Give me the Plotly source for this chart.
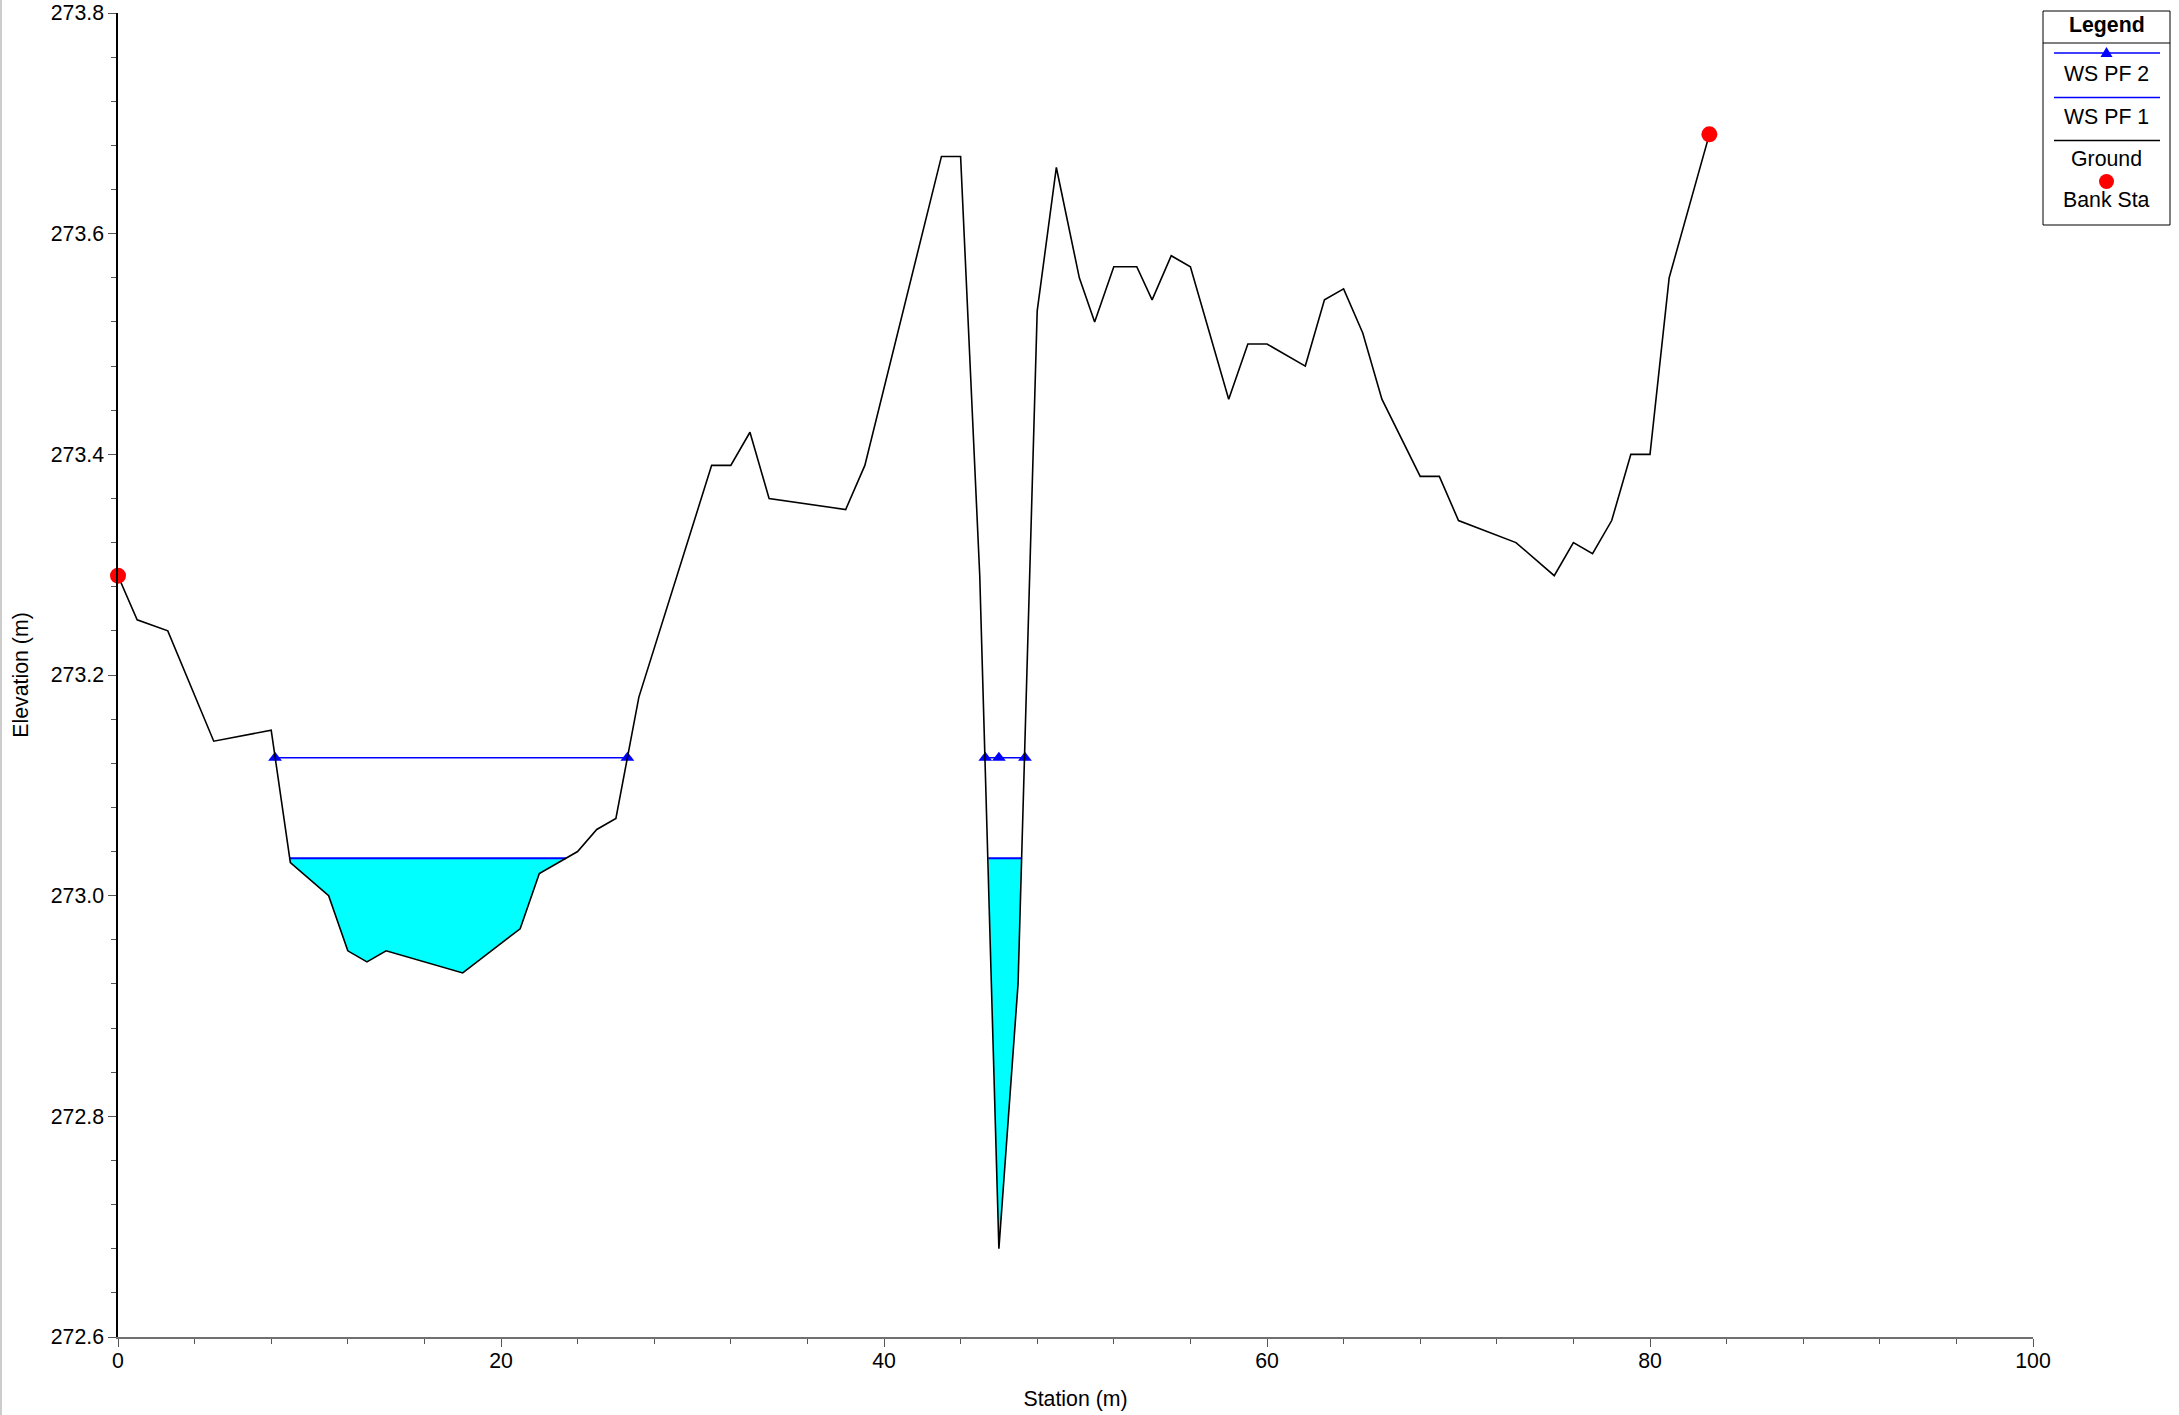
import plotly.graph_objects as go

# ---------------- data ----------------
ground_station = [0, 1, 2.6, 5, 8, 9, 11, 12, 13, 14, 18, 21, 22, 24, 25, 26, 27.2,
                  31, 32, 33, 34, 38, 39, 43, 44, 45, 46, 47, 48, 49, 50.2, 51, 52,
                  53.2, 54, 55, 56, 58, 59, 60, 62, 63, 64, 65, 66, 68, 69, 70, 73,
                  75, 76, 77, 78, 79, 80, 81, 83.1]
ground_elev = [273.29, 273.25, 273.24, 273.14, 273.15, 273.03, 273.00, 272.95, 272.94,
               272.95, 272.93, 272.97, 273.02, 273.04, 273.06, 273.07, 273.18,
               273.39, 273.39, 273.42, 273.36, 273.35, 273.39, 273.67, 273.67,
               273.29, 272.68, 272.92, 273.53, 273.66, 273.56, 273.52, 273.57,
               273.57, 273.54, 273.58, 273.57, 273.45, 273.50, 273.50, 273.48,
               273.54, 273.55, 273.51, 273.45, 273.38, 273.38, 273.34, 273.32,
               273.29, 273.32, 273.31, 273.34, 273.40, 273.40, 273.56, 273.69]

bank_station = [0, 83.1]
bank_elev = [273.29, 273.69]

ws_pf2_elev = 273.125
ws_pf2_segments = [[8.2, 26.6], [45.29, 46.0, 47.36]]

ws_pf1_elev = 273.034
ws_pf1_segments = [[8.97, 23.4], [45.45, 47.19]]

x_ticks = [0, 20, 40, 60, 80, 100]
y_ticks = [272.6, 272.8, 273.0, 273.2, 273.4, 273.6, 273.8]

legend_labels = ["WS PF 2", "WS PF 1", "Ground", "Bank Sta"]

# ---------------- layout helpers ----------------
W, H = 2179, 1415
FONT = "Arial, Liberation Sans, sans-serif"
FS = 21.3


def px(x):
    return x / W


def py(y):
    return 1 - y / H


fig = go.Figure()

# water fill for WS PF 1 (polygon: water surface over the ground)
for seg in ws_pf1_segments:
    lo, hi = seg[0], seg[-1]
    fx = [lo] + [s for s in ground_station if lo < s < hi] + [hi]
    fy = [ws_pf1_elev] + [e for s, e in zip(ground_station, ground_elev) if lo < s < hi] + [ws_pf1_elev]
    fig.add_trace(go.Scatter(x=fx, y=fy, fill="toself", fillcolor="#00FFFF",
                             mode="lines", line=dict(width=0, color="#00FFFF"),
                             hoverinfo="skip", showlegend=False))

# WS PF 1 line
x1, y1 = [], []
for seg in ws_pf1_segments:
    x1 += [seg[0], seg[-1], None]
    y1 += [ws_pf1_elev, ws_pf1_elev, None]
fig.add_trace(go.Scatter(x=x1, y=y1, mode="lines", name="WS PF 1",
                         line=dict(color="#0000FF", width=2)))

# WS PF 2 line with triangle markers
x2, y2 = [], []
for seg in ws_pf2_segments:
    x2 += seg + [None]
    y2 += [ws_pf2_elev] * len(seg) + [None]
fig.add_trace(go.Scatter(x=x2, y=y2, mode="lines+markers", name="WS PF 2",
                         line=dict(color="#0000FF", width=1.5),
                         marker=dict(symbol="triangle-up", size=12, color="#0000FF")))

# Ground
fig.add_trace(go.Scatter(x=ground_station, y=ground_elev, mode="lines", name="Ground",
                         line=dict(color="black", width=1.6)))

# Bank stations
fig.add_trace(go.Scatter(x=bank_station, y=bank_elev, mode="markers", name="Bank Sta",
                         marker=dict(symbol="circle", size=16, color="#FF0000"),
                         cliponaxis=False))

# ---------------- custom legend (HEC-RAS style) ----------------
shapes = []
annotations = []
lx0, lx1, lxc = 2043, 2170, 2106.5
shapes.append(dict(type="rect", xref="paper", yref="paper",
                   x0=px(lx0), x1=px(lx1), y0=py(225), y1=py(11),
                   line=dict(color="black", width=1), fillcolor="white", layer="above"))
shapes.append(dict(type="line", xref="paper", yref="paper",
                   x0=px(lx0), x1=px(lx1), y0=py(43), y1=py(43),
                   line=dict(color="black", width=1)))
annotations.append(dict(text="<b>Legend</b>", x=px(lxc), y=py(25), xref="paper", yref="paper",
                        showarrow=False, xanchor="center", yanchor="middle",
                        font=dict(family=FONT, size=FS, color="black")))

sym_y = [53, 97.5, 140.5, 181.5]
txt_y = [74, 117, 159, 200]
sym_color = ["#0000FF", "#0000FF", "black", "#FF0000"]
for i, lab in enumerate(legend_labels):
    if i < 3:
        shapes.append(dict(type="line", xref="paper", yref="paper",
                           x0=px(2054), x1=px(2160), y0=py(sym_y[i]), y1=py(sym_y[i]),
                           line=dict(color=sym_color[i], width=1.5)))
    if i == 0:
        cy = sym_y[i]
        path = "M {},{} L {},{} L {},{} Z".format(px(lxc - 6), py(cy + 4), px(lxc + 6), py(cy + 4),
                                                  px(lxc), py(cy - 6))
        shapes.append(dict(type="path", xref="paper", yref="paper", path=path,
                           fillcolor="#0000FF", line=dict(color="#0000FF", width=0)))
    if i == 3:
        cy = sym_y[i]
        shapes.append(dict(type="circle", xref="paper", yref="paper",
                           x0=px(lxc - 7.5), x1=px(lxc + 7.5), y0=py(cy + 7.5), y1=py(cy - 7.5),
                           fillcolor="#FF0000", line=dict(color="#FF0000", width=0)))
    annotations.append(dict(text=lab, x=px(lxc), y=py(txt_y[i]), xref="paper", yref="paper",
                            showarrow=False, xanchor="center", yanchor="middle",
                            font=dict(family=FONT, size=FS, color="black")))

# gray page border line at the left
shapes.append(dict(type="line", xref="paper", yref="paper", x0=px(1), x1=px(1), y0=0, y1=1,
                   line=dict(color="#BBBBBB", width=1.5)))

fig.update_layout(
    width=W, height=H,
    margin=dict(l=0, r=0, t=0, b=0, pad=0),
    paper_bgcolor="white", plot_bgcolor="white",
    showlegend=False,
    font=dict(family=FONT, size=FS, color="black"),
    shapes=shapes,
    annotations=annotations,
    xaxis=dict(domain=[px(118), px(2033)], range=[0, 100], tickvals=x_ticks,
               ticktext=[str(v) for v in x_ticks],
               showgrid=False, zeroline=False, showline=True, linecolor="#707070", linewidth=2,
               ticks="outside", ticklen=8, tickwidth=1, tickcolor="#555555",
               ticklabelstandoff=-5,
               minor=dict(dtick=4, tick0=0, ticks="outside", ticklen=5, tickcolor="#555555",
                          showgrid=False),
               tickfont=dict(family=FONT, size=FS, color="black"),
               title=dict(text="Station (m)", standoff=20,
                          font=dict(family=FONT, size=FS, color="black")),
               automargin=False, fixedrange=True),
    yaxis=dict(domain=[py(1337), py(13)], range=[272.6, 273.8], tickvals=y_ticks,
               ticktext=["{:.1f}".format(v) for v in y_ticks],
               showgrid=False, zeroline=False, showline=True, linecolor="black", linewidth=1.5,
               ticks="outside", ticklen=8, tickwidth=1, tickcolor="#555555",
               minor=dict(dtick=0.04, tick0=272.6, ticks="outside", ticklen=5, tickcolor="#555555",
                          showgrid=False),
               tickfont=dict(family=FONT, size=FS, color="black"),
               title=dict(text="Elevation (m)", standoff=16,
                          font=dict(family=FONT, size=FS, color="black")),
               automargin=False, fixedrange=True),
)

fig.write_html("out.html", config={"displayModeBar": False},
               post_script="document.body.style.margin='0';document.body.style.overflow='hidden';")
